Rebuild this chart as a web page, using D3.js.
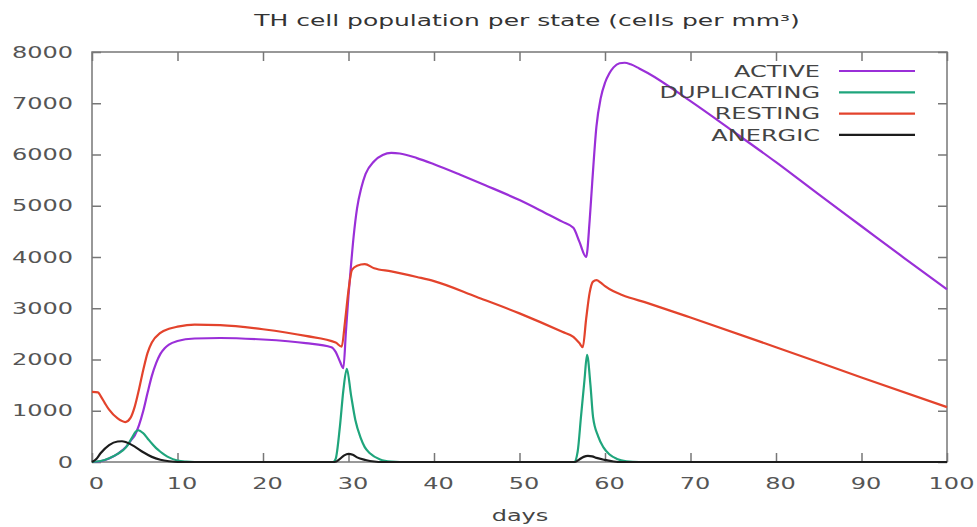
<!DOCTYPE html>
<html>
<head>
<meta charset="utf-8">
<script src="https://cdn.jsdelivr.net/npm/d3@7"></script>
<style>
  body { margin: 0; background: #fff; }
  text { font-family: "DejaVu Sans", sans-serif; }
</style>
</head>
<body>
<div id="chart"></div>
<script>
// TH cell population per state
const seriesNames = ['ACTIVE', 'DUPLICATING', 'RESTING', 'ANERGIC'];
const seriesColors = ['#9a2fd8', '#1fa57c', '#e3432c', '#1c1c1c'];

// [day, cells per mm3]
const activeData = [[0, 0], [1, 15], [2, 70], [3, 160], [4, 300], [4.6, 430], [5, 520], [5.5, 720], [6, 1000],
  [6.5, 1350], [7, 1680], [7.5, 1930], [8, 2110], [8.5, 2220], [9, 2290], [10, 2360], [12, 2410], [15, 2420],
  [20, 2390], [25, 2320], [28, 2240], [28.5, 2150], [29, 1960], [29.4, 1830], [29.7, 2550], [30, 3250],
  [30.3, 3850], [30.6, 4400], [31, 4950], [31.5, 5350], [32, 5620], [33, 5870], [34, 5990], [35, 6030],
  [36, 6020], [38, 5930], [40, 5810], [43, 5610], [46, 5400], [50, 5110], [53, 4860], [55, 4690], [56.3, 4570],
  [57, 4300], [57.8, 4000], [58.2, 4700], [58.5, 5440], [59, 6550], [59.5, 7100], [60, 7400], [60.5, 7580],
  [61, 7700], [61.7, 7780], [62.3, 7790], [63, 7760], [64, 7680], [65, 7590], [70, 7040], [75, 6450],
  [80, 5850], [85, 5220], [90, 4600], [95, 3980], [100, 3370]];

const duplicatingData = [[0, 0], [1, 20], [2, 75], [3, 160], [4, 290], [4.6, 450], [5.1, 590], [5.4, 620],
  [6, 560], [6.5, 460], [7, 360], [7.5, 270], [8, 200], [8.5, 140], [9, 90], [10, 30], [11, 8], [12, 0],
  [28.2, 0], [28.5, 60], [29, 700], [29.4, 1400], [29.8, 1820], [30.3, 1300], [30.8, 820], [31.4, 480],
  [31.9, 290], [32.5, 170], [33.7, 50], [35, 8], [36, 0], [56.4, 0], [56.8, 200], [57.2, 900], [57.6, 1600],
  [57.9, 2090], [58.3, 1500], [58.6, 880], [59.2, 500], [59.8, 290], [60.5, 150], [61.4, 60], [62.5, 15],
  [64, 0], [100, 0]];

const restingData = [[0, 1370], [0.7, 1360], [1, 1290], [1.5, 1150], [2, 1020], [3, 850], [3.9, 780], [4.5, 860],
  [5, 1080], [5.5, 1420], [6, 1800], [6.5, 2130], [7, 2330], [8, 2520], [9, 2600], [10, 2640], [12, 2680],
  [15, 2670], [20, 2590], [25, 2460], [28.5, 2330], [29.2, 2250], [29.6, 2750], [30, 3350], [30.4, 3750],
  [31, 3830], [31.9, 3860], [33, 3780], [35, 3720], [38, 3610], [40, 3530], [45, 3220], [50, 2900], [55, 2540],
  [56.3, 2440], [57, 2320], [57.4, 2240], [57.8, 2800], [58.2, 3300], [58.6, 3520], [59, 3550], [59.5, 3500],
  [60, 3430], [61, 3330], [62, 3260], [65, 3100], [70, 2820], [80, 2240], [90, 1650], [100, 1070]];

const anergicData = [[0, 0], [0.5, 60], [1, 170], [2, 330], [3, 400], [3.5, 405], [4, 385], [5, 300], [6, 190],
  [7, 100], [8, 45], [9, 15], [10, 0], [28.4, 0], [29, 60], [29.5, 130], [30, 160], [30.5, 140], [31, 90],
  [32, 40], [33, 10], [34, 0], [56.5, 0], [57, 50], [57.5, 100], [58, 120], [58.5, 110], [59, 80], [60, 40],
  [61, 10], [62, 0], [100, 0]];

const xTicks = [0, 10, 20, 30, 40, 50, 60, 70, 80, 90, 100];
const yTicks = [0, 1000, 2000, 3000, 4000, 5000, 6000, 7000, 8000];

const width = 977;
const height = 527;
const margin = { top: 52, right: 30, bottom: 65, left: 92 };
const stretch = 1.5; // the reference text is drawn wide

const svg = d3.select('#chart').append('svg')
  .attr('width', width)
  .attr('height', height);

const x = d3.scaleLinear().domain([0, 100]).range([margin.left, width - margin.right]);
const y = d3.scaleLinear().domain([0, 8000]).range([height - margin.bottom, margin.top]);

// widen a text selection horizontally
function widen(sel, k = stretch) {
  sel.each(function () {
    const w = this.getComputedTextLength();
    d3.select(this).attr('textLength', w * k).attr('lengthAdjust', 'spacingAndGlyphs');
  });
}

// frame
svg.append('rect')
  .attr('x', x(0)).attr('y', y(8000))
  .attr('width', x(100) - x(0)).attr('height', y(0) - y(8000))
  .attr('fill', 'none').attr('stroke', '#777').attr('stroke-width', 1.5);

// axes, ticks pointing inwards like gnuplot
const axisColor = '#777';
const gx = svg.append('g').attr('transform', `translate(0,${y(0)})`)
  .call(d3.axisBottom(x).tickValues(xTicks).tickSize(-9).tickSizeOuter(0).tickPadding(16));
const gy = svg.append('g').attr('transform', `translate(${x(0)},0)`)
  .call(d3.axisLeft(y).tickValues(yTicks).tickFormat(d3.format('d')).tickSize(-9).tickSizeOuter(0).tickPadding(19));
const gt = svg.append('g').attr('transform', `translate(0,${y(8000)})`)
  .call(d3.axisTop(x).tickValues(xTicks).tickSize(-9).tickSizeOuter(0).tickFormat(''));
const gr = svg.append('g').attr('transform', `translate(${x(100)},0)`)
  .call(d3.axisRight(y).tickValues(yTicks).tickSize(-9).tickSizeOuter(0).tickFormat(''));

[gx, gy, gt, gr].forEach(g => {
  g.select('.domain').remove();
  g.selectAll('line').attr('stroke', axisColor).attr('stroke-width', 1.5);
  g.selectAll('text').attr('fill', '#555').style('font-size', '16px')
    .style('font-family', '"DejaVu Sans", sans-serif');
});
gx.selectAll('text').attr('dx', 4);
widen(gx.selectAll('text'));
widen(gy.selectAll('text'));

// lines
const line = d3.line()
  .x(d => x(d[0]))
  .y(d => y(d[1]))
  .curve(d3.curveMonotoneX);

const allData = [activeData, duplicatingData, restingData, anergicData];
svg.append('g')
  .selectAll('path').data(allData)
  .enter()
  .append('path')
  .attr('d', line)
  .attr('fill', 'none')
  .attr('stroke', (d, i) => seriesColors[i])
  .attr('stroke-width', 2.2)
  .attr('stroke-linejoin', 'round');

// legend
const legend = svg.append('g');
seriesNames.forEach((name, i) => {
  const yy = 71 + i * 21.3;
  const t = legend.append('text')
    .attr('x', 820).attr('y', yy)
    .attr('dy', '0.36em')
    .attr('text-anchor', 'end')
    .attr('fill', '#444')
    .style('font-size', '16px')
    .text(name);
  widen(t);
  legend.append('line')
    .attr('x1', 839).attr('x2', 915)
    .attr('y1', yy).attr('y2', yy)
    .attr('stroke', seriesColors[i])
    .attr('stroke-width', 2.2);
});

// title and axis label
const title = svg.append('text')
  .attr('x', 527).attr('y', 26)
  .attr('text-anchor', 'middle')
  .attr('fill', '#333')
  .style('font-size', '16px')
  .text('TH cell population per state (cells per mm³)');
widen(title, 1.56);

const xlab = svg.append('text')
  .attr('x', 520).attr('y', 521)
  .attr('text-anchor', 'middle')
  .attr('fill', '#444')
  .style('font-size', '16px')
  .text('days');
widen(xlab);
</script>
</body>
</html>
